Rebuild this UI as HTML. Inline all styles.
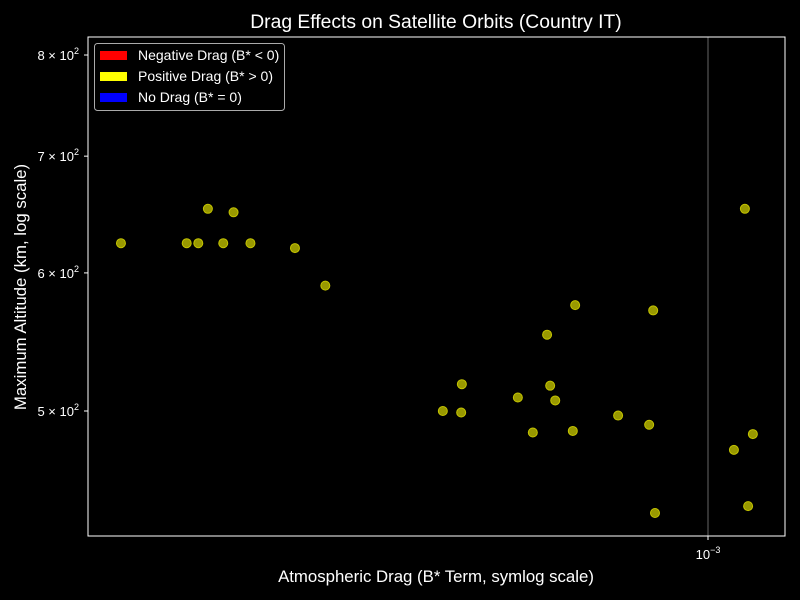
<!DOCTYPE html>
<html><head><meta charset="utf-8"><style>
html,body{margin:0;padding:0;background:#000;}
svg{display:block;font-family:"Liberation Sans",sans-serif;}
</style></head><body>
<svg id="chart" width="800" height="600">
<rect x="0" y="0" width="800" height="600" fill="#000"/>
<text x="436" y="28" fill="#fff" font-size="19.3" text-anchor="middle">Drag Effects on Satellite Orbits (Country IT)</text>
<line x1="708" y1="37" x2="708" y2="536" stroke="#666" stroke-width="1"/>
<g id="points"></g>
<rect x="88" y="37" width="697" height="499" fill="none" stroke="#fff" stroke-width="1"/>
<g id="axes"></g>
<text x="436" y="582" fill="#fff" font-size="16.8" text-anchor="middle">Atmospheric Drag (B* Term, symlog scale)</text>
<text transform="translate(26,287) rotate(-90)" fill="#fff" font-size="16.8" text-anchor="middle">Maximum Altitude (km, log scale)</text>
<g>
<rect x="94.5" y="43.5" width="190" height="67" rx="3" fill="#000" stroke="#aaa"/>
<rect x="100" y="51" width="27" height="9" fill="#f00"/>
<text x="138" y="60" fill="#fff" font-size="14">Negative Drag (B* &lt; 0)</text>
<rect x="100" y="72" width="27" height="9" fill="#ff0"/>
<text x="138" y="81" fill="#fff" font-size="14">Positive Drag (B* &gt; 0)</text>
<rect x="100" y="93" width="27" height="9" fill="#00f"/>
<text x="138" y="102" fill="#fff" font-size="14">No Drag (B* = 0)</text>
</g>
</svg>
<script>
const bstarValues=[1.45e-4,1.80e-4,1.87e-4,1.93e-4,2.03e-4,2.10e-4,2.22e-4,2.57e-4,2.84e-4,4.18e-4,4.44e-4,4.45e-4,5.35e-4,5.62e-4,5.89e-4,5.95e-4,6.05e-4,6.41e-4,6.46e-4,7.44e-4,8.24e-4,8.35e-4,8.40e-4,1.089e-3,1.129e-3,1.141e-3,1.159e-3];
const altitudeValues=[624,624,624,653,624,650,624,620,590,500,499,518,509,486,553,517,507,487,575,497,491,571,437,475,653,441,485];
const yTickValues=[500,600,700,800];
const yTickLabels=["5","6","7","8"];
const xTickValues=[1e-3];
const NS="http://www.w3.org/2000/svg";
function xScale(v){return 708+700*Math.log10(v/1e-3);}
function yScale(v){return 411-1744*Math.log10(v/500);}
const pts=document.getElementById('points');
for(let i=0;i<bstarValues.length;i++){
  const c=document.createElementNS(NS,'circle');
  c.setAttribute('cx',xScale(bstarValues[i]));
  c.setAttribute('cy',yScale(altitudeValues[i]));
  c.setAttribute('r',4.5);
  c.setAttribute('fill','#999900');
  c.setAttribute('stroke','#c4c400');
  c.setAttribute('stroke-width','1');
  
  
  pts.appendChild(c);
}
const ax=document.getElementById('axes');
for(let i=0;i<yTickValues.length;i++){
  const y=yScale(yTickValues[i]);
  const l=document.createElementNS(NS,'line');
  l.setAttribute('x1',84);l.setAttribute('x2',88);l.setAttribute('y1',y);l.setAttribute('y2',y);
  l.setAttribute('stroke','#fff');
  
  
  ax.appendChild(l);
  const t=document.createElementNS(NS,'text');
  t.setAttribute('x',79);t.setAttribute('y',y+5);t.setAttribute('text-anchor','end');
  t.setAttribute('fill','#fff');t.setAttribute('font-size','13');
  t.innerHTML=yTickLabels[i]+' \u00d7 10<tspan font-size="9" dy="-6">2</tspan>';
  
  
  ax.appendChild(t);
}
for(let i=0;i<xTickValues.length;i++){
  const x=xScale(xTickValues[i]);
  const l=document.createElementNS(NS,'line');
  l.setAttribute('x1',x);l.setAttribute('x2',x);l.setAttribute('y1',536);l.setAttribute('y2',540);
  l.setAttribute('stroke','#fff');
  
  
  ax.appendChild(l);
  const t=document.createElementNS(NS,'text');
  t.setAttribute('x',x);t.setAttribute('y',559);t.setAttribute('text-anchor','middle');
  t.setAttribute('fill','#fff');t.setAttribute('font-size','13');
  t.innerHTML='10<tspan font-size="9" dy="-6">\u22123</tspan>';
  
  
  ax.appendChild(t);
}
</script>
</body></html>
